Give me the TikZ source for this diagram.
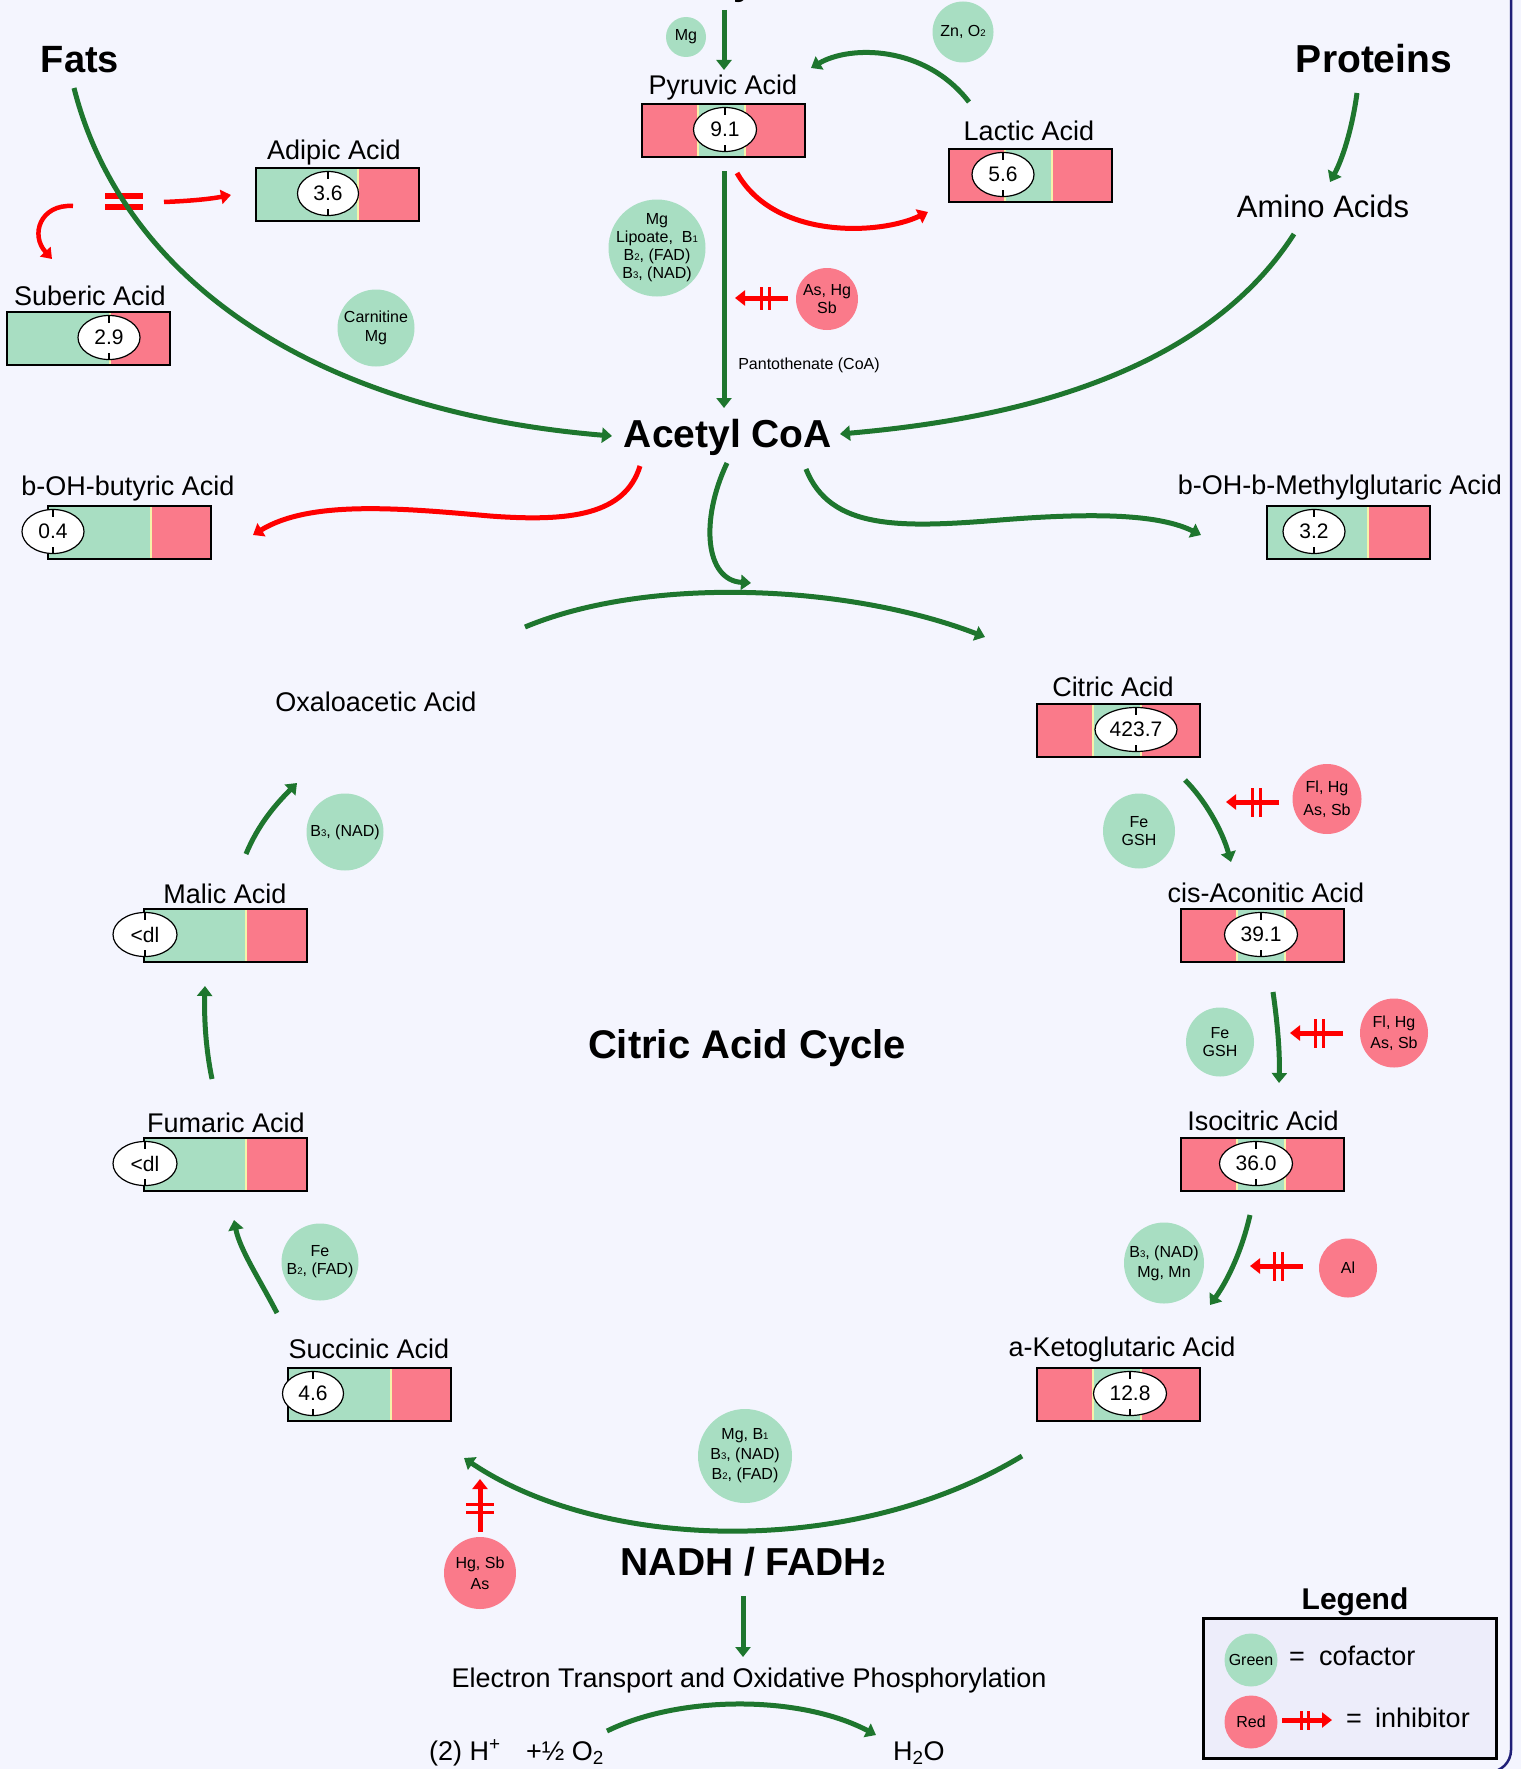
\documentclass[tikz,border=0pt]{standalone}
\usepackage{fontspec}
\setmainfont{Liberation Sans}
\usepackage{graphicx}
\usetikzlibrary{arrows.meta,shapes.geometric,calc}

\definecolor{bgc}{RGB}{244,245,254}
\definecolor{legc}{RGB}{237,237,250}
\definecolor{cofg}{RGB}{168,222,194}
\definecolor{inhr}{RGB}{250,122,138}
\definecolor{agreen}{RGB}{30,118,46}
\definecolor{ared}{RGB}{255,0,0}
\definecolor{framec}{RGB}{32,32,120}
\definecolor{ylw}{RGB}{245,243,170}

\newcommand\sbs[1]{\scalebox{0.6}{#1}}

\tikzset{
 garrow/.style={draw=agreen,line width=5pt,-{Triangle[length=10pt,width=15pt]}},
 rarrow/.style={draw=ared,line width=4.5pt,-{Triangle[length=10pt,width=14pt]}},
 inharrow/.style={draw=ared,line width=5pt,-{Triangle[length=10pt,width=15pt]}},
 inhbar/.style={draw=ared,line width=3pt},
 cof/.style={ellipse,fill=cofg,inner sep=-8pt,align=center,font=\fontsize{16}{19}\selectfont},
 inh/.style={ellipse,fill=inhr,inner sep=-8pt,align=center,font=\fontsize{16}{19}\selectfont},
 barbox/.style={draw=black,line width=1.5pt,minimum width=163pt,minimum height=53pt,inner sep=0pt},
 numell/.style={ellipse,draw=black,fill=white,line width=1.2pt,minimum height=44pt,inner sep=0pt,font=\fontsize{21}{25}\selectfont},
 acidlabel/.style={anchor=base,inner sep=0pt,font=\fontsize{27}{32}\selectfont},
 plain/.style={anchor=base,inner sep=0pt,font=\fontsize{27}{32}\selectfont},
 title/.style={anchor=base,inner sep=0pt,font=\bfseries\fontsize{39}{45}\selectfont},
 tickmark/.style={draw=black,line width=1.2pt},
}

% name, x0, y0, green start, green end, ellipse x, ellipse width, number
\newcommand\acid[8]{%
 \fill[inhr] (#2,#3) rectangle ({#2+163},{#3+53});
 \fill[cofg] (#4,#3) rectangle (#5,{#3+53});
 \ifdim #4pt>\dimexpr #2pt+1pt\relax \draw[ylw,line width=2.5pt] ({#4+1.2},#3) -- ({#4+1.2},{#3+53});\fi
 \draw[ylw,line width=2.5pt] ({#5-1.2},#3) -- ({#5-1.2},{#3+53});
 \node[barbox,anchor=north west] (#1) at (#2,#3) {};
 \node[numell,minimum width=#7pt] (#1n) at (#6,{#3+26.5}) {#8};
 \draw[tickmark] (#6,{#3+4.5}) -- ++(0,7);
 \draw[tickmark] (#6,{#3+48.5}) -- ++(0,-7);
}

\begin{document}
\begin{tikzpicture}[x=1pt,y=-1pt]
\useasboundingbox (0,0) rectangle (1521,1769);
\fill[bgc] (0,0) rectangle (1521,1769);
\draw[framec,line width=2.5pt,rounded corners=22pt] (-30,-30) rectangle (1511,1772);

% fragment of the title above
\node[anchor=base west,inner sep=0pt,font=\bfseries\fontsize{39}{45}\selectfont] (topy) at (733,-5) {y};

% titles
\node[title,font=\bfseries\fontsize{38}{44}\selectfont] (fats) at (80,73) {Fats};
\node[title] (proteins) at (1374,73) {Proteins};
\node[title] (acetyl) at (728,447) {Acetyl CoA};
\node[title,font=\bfseries\fontsize{40}{46}\selectfont] (cycle) at (747,1058) {Citric Acid Cycle};
\node[title] (nadh) at (753,1575) {NADH / FADH\sbs{2}};
\node[title,font=\bfseries\fontsize{30}{36}\selectfont] (legtitle) at (1355,1609) {Legend};

% bars
\acid{bPyr}{641}{103}{697}{746}{725}{63}{9.1}
\acid{bLac}{948}{148}{1004}{1053}{1003}{62}{5.6}
\acid{bAdi}{255}{167}{255}{359}{328}{61}{3.6}
\acid{bSub}{6}{311}{6}{111}{109}{62}{2.9}
\acid{bBut}{47}{505}{47}{152}{53}{62}{0.4}
\acid{bHMG}{1266}{505}{1266}{1369}{1314}{62}{3.2}
\acid{bCit}{1036}{703}{1092}{1142}{1136}{82}{423.7}
\acid{bAco}{1180}{908}{1236}{1286}{1261}{73}{39.1}
\acid{bIso}{1180}{1137}{1236}{1286}{1256}{73}{36.0}
\acid{bKet}{1036}{1367}{1092}{1142}{1130}{73}{12.8}
\acid{bSuc}{287}{1367}{287}{392}{313}{61}{4.6}
\acid{bMal}{143}{908}{143}{247}{145}{64}{<dl}
\acid{bFum}{143}{1137}{143}{247}{145}{64}{<dl}

% labels
\node[acidlabel] (lPyr) at (723,95) {Pyruvic Acid};
\node[acidlabel] (lLac) at (1029,140) {Lactic Acid};
\node[acidlabel] (lAdi) at (334,159) {Adipic Acid};
\node[acidlabel] (lSub) at (90,305) {Suberic Acid};
\node[acidlabel] (lBut) at (128,495) {b-OH-butyric Acid};
\node[acidlabel] (lHMG) at (1340,494) {b-OH-b-Methylglutaric Acid};
\node[acidlabel] (lCit) at (1113,696) {Citric Acid};
\node[acidlabel] (lAco) at (1266,902) {cis-Aconitic Acid};
\node[acidlabel] (lIso) at (1263,1130) {Isocitric Acid};
\node[acidlabel] (lKet) at (1122,1356) {a-Ketoglutaric Acid};
\node[acidlabel] (lSuc) at (369,1358) {Succinic Acid};
\node[acidlabel] (lMal) at (225,903) {Malic Acid};
\node[acidlabel] (lFum) at (226,1132) {Fumaric Acid};
\node[acidlabel] (lOxa) at (376,711) {Oxaloacetic Acid};
\node[acidlabel,font=\fontsize{31}{36}\selectfont] (amino) at (1323,217) {Amino Acids};
\node[acidlabel,font=\fontsize{16}{19}\selectfont] (panto) at (809,369) {Pantothenate (CoA)};
\node[plain] (etc) at (749,1687) {Electron Transport and Oxidative Phosphorylation};
\node[plain,anchor=base west] (hplus) at (429,1760) {(2) H\textsuperscript{+}};
\node[plain,anchor=base west] (oxy) at (526,1760) {+½ O\textsubscript{2}};
\node[plain,anchor=base west] (water) at (893,1760) {H\textsubscript{2}O};

% cofactors (green)
\node[cof,minimum width=40pt,minimum height=40pt] (cMg) at (686,37) {Mg};
\node[cof,minimum width=61pt,minimum height=61pt] (cZn) at (963,32) {Zn, O\sbs{2}};
\node[cof,minimum width=97pt,minimum height=97pt,font=\fontsize{16}{18}\selectfont] (cPyr) at (657,248) {Mg\\Lipoate,~~B\sbs{1}\\B\sbs{2}, (FAD)\\B\sbs{3}, (NAD)};
\node[cof,minimum width=77pt,minimum height=77pt] (cCarn) at (376,328) {Carnitine\\Mg};
\node[cof,minimum width=77pt,minimum height=77pt] (cB3) at (345,832) {B\sbs{3}, (NAD)};
\node[cof,minimum width=72pt,minimum height=75pt,font=\fontsize{16}{18}\selectfont] (cFe1) at (1139,831) {Fe\\GSH};
\node[cof,minimum width=68pt,minimum height=69pt,font=\fontsize{16}{18}\selectfont] (cFe2) at (1220,1042) {Fe\\GSH};
\node[cof,minimum width=80pt,minimum height=81pt,font=\fontsize{16}{20}\selectfont] (cB3Mn) at (1164,1263) {B\sbs{3}, (NAD)\\Mg, Mn};
\node[cof,minimum width=77pt,minimum height=77pt,font=\fontsize{16}{18}\selectfont] (cFeB2) at (320,1262) {Fe\\B\sbs{2}, (FAD)};
\node[cof,minimum width=94pt,minimum height=94pt,font=\fontsize{16}{20}\selectfont] (cMgB1) at (745,1456) {Mg, B\sbs{1}\\B\sbs{3}, (NAD)\\B\sbs{2}, (FAD)};

% inhibitors (red)
\node[inh,minimum width=62pt,minimum height=62pt,font=\fontsize{16}{18}\selectfont] (iAs) at (827,299) {As, Hg\\Sb};
\node[inh,minimum width=69pt,minimum height=70pt,font=\fontsize{16}{23}\selectfont] (iFl1) at (1327,799) {Fl, Hg\\As, Sb};
\node[inh,minimum width=68pt,minimum height=69pt,font=\fontsize{16}{21}\selectfont] (iFl2) at (1394,1033) {Fl, Hg\\As, Sb};
\node[inh,minimum width=58pt,minimum height=59pt] (iAl) at (1348,1268) {Al};
\node[inh,minimum width=72pt,minimum height=72pt,font=\fontsize{16}{21}\selectfont] (iHg) at (480,1573) {Hg, Sb\\As};

% red cross-out and side arrows near Fats
\fill[ared] (105,193) rectangle (143,199);
\fill[ared] (105,204) rectangle (143,210);
\coordinate (fatL) at (73,206);
\coordinate (subIn) at (52,259);
\coordinate (fatR) at (164,202);
\coordinate (adiIn) at (231,195);
\draw[rarrow] (fatL) .. controls (40,204) and (30,235) .. (subIn);
\draw[rarrow] (fatR) .. controls (190,201) and (210,199) .. (adiIn);

% green pathway arrows
\coordinate (topIn) at (724,10);
\coordinate (pyrTop) at (724,70);
\draw[garrow] (topIn) -- (pyrTop);

\coordinate (lacOut) at (969,102);
\coordinate (pyrR) at (811,68);
\draw[garrow] (lacOut) .. controls (925,45) and (850,45) .. (pyrR);

\coordinate (pyrOutR) at (737,173);
\coordinate (lacIn) at (928,212);
\draw[draw=ared,line width=5pt,-{Triangle[length=10pt,width=15pt]}] (pyrOutR) .. controls (775,240) and (880,235) .. (lacIn);

\coordinate (pyrBot) at (724,171);
\coordinate (acTop) at (724,408);
\draw[garrow] (pyrBot) -- (acTop);

\coordinate (fatsOut) at (74,88);
\coordinate (acL) at (612,436);
\draw[garrow] (fatsOut) .. controls (120,270) and (300,410) .. (acL);

\coordinate (aminoOut) at (1294,234);
\coordinate (acR) at (840,434);
\draw[garrow] (aminoOut) .. controls (1200,380) and (1000,420) .. (acR);

\coordinate (protOut) at (1357,93);
\coordinate (aminoIn) at (1330,182);
\draw[garrow] (protOut) .. controls (1352,130) and (1342,160) .. (aminoIn);

\coordinate (acBL) at (640,466);
\coordinate (butIn) at (253,535);
\draw[draw=ared,line width=5pt,-{Triangle[length=10pt,width=15pt]}] (acBL) .. controls (625,515) and (570,522) .. (490,516) .. controls (400,508) and (310,500) .. (butIn);

\coordinate (acBR) at (806,469);
\coordinate (hmgIn) at (1201,535);
\draw[garrow] (acBR) .. controls (830,530) and (900,528) .. (1000,520) .. controls (1100,512) and (1160,515) .. (hmgIn);

\coordinate (acBot) at (727,463);
\coordinate (arcIn) at (751,583);
\draw[garrow] (acBot) .. controls (700,520) and (705,580) .. (arcIn);

\coordinate (oxaOut) at (525,627);
\coordinate (citIn) at (985,637);
\draw[garrow] (oxaOut) .. controls (650,575) and (850,585) .. (citIn);

\coordinate (citOut) at (1185,780);
\coordinate (acoIn) at (1231,862);
\draw[garrow] (citOut) .. controls (1205,800) and (1222,830) .. (acoIn);

\coordinate (acoOut) at (1273,992);
\coordinate (isoIn) at (1279,1083);
\draw[garrow] (acoOut) .. controls (1277,1020) and (1280,1050) .. (isoIn);

\coordinate (isoOut) at (1250,1215);
\coordinate (ketIn) at (1210,1305);
\draw[garrow] (isoOut) .. controls (1242,1250) and (1228,1280) .. (ketIn);

\coordinate (ketOut) at (1022,1456);
\coordinate (sucIn) at (464,1458);
\draw[garrow] (ketOut) .. controls (850,1560) and (600,1550) .. (sucIn);

\coordinate (sucOut) at (277,1313);
\coordinate (fumIn) at (234,1220);
\draw[garrow] (sucOut) .. controls (260,1280) and (240,1250) .. (fumIn);

\coordinate (fumOut) at (212,1079);
\coordinate (malIn) at (205,986);
\draw[garrow] (fumOut) .. controls (206,1050) and (204,1020) .. (malIn);

\coordinate (malOut) at (246,854);
\coordinate (oxaIn) at (297,783);
\draw[garrow] (malOut) .. controls (258,825) and (275,805) .. (oxaIn);

\coordinate (nadhOut) at (743,1596);
\coordinate (etcIn) at (743,1657);
\draw[garrow] (nadhOut) -- (etcIn);

\coordinate (hOut) at (607,1731);
\coordinate (waterIn) at (876,1735);
\draw[garrow] (hOut) .. controls (680,1695) and (800,1695) .. (waterIn);

% inhibitor arrows
\coordinate (iAsT) at (788,298); \coordinate (iAsH) at (735,298);
\draw[inharrow] (iAsT) -- (iAsH);
\draw[inhbar] (761,287) -- (761,310); \draw[inhbar] (769,287) -- (769,310);

\coordinate (iFl1T) at (1279,802); \coordinate (iFl1H) at (1226,802);
\draw[inharrow] (iFl1T) -- (iFl1H);
\draw[inhbar] (1252,788) -- (1252,817); \draw[inhbar] (1260,788) -- (1260,817);

\coordinate (iFl2T) at (1343,1033); \coordinate (iFl2H) at (1290,1033);
\draw[inharrow] (iFl2T) -- (iFl2H);
\draw[inhbar] (1315,1019) -- (1315,1048); \draw[inhbar] (1323,1019) -- (1323,1048);

\coordinate (iAlT) at (1303,1266); \coordinate (iAlH) at (1250,1266);
\draw[inharrow] (iAlT) -- (iAlH);
\draw[inhbar] (1274,1252) -- (1274,1281); \draw[inhbar] (1282,1252) -- (1282,1281);

\coordinate (iHgT) at (480,1532); \coordinate (iHgH) at (480,1479);
\draw[inharrow] (iHgT) -- (iHgH);
\draw[inhbar] (466,1504) -- (494,1504); \draw[inhbar] (466,1512) -- (494,1512);

% legend
\node[draw=black,line width=2.5pt,fill=legc,minimum width=293pt,minimum height=140pt,anchor=north west,inner sep=0pt] (legbox) at (1202,1617) {};
\node[cof,minimum width=53pt,minimum height=53pt] (legG) at (1251,1660) {Green};
\node[inh,minimum width=53pt,minimum height=53pt] (legR) at (1251,1722) {Red};
\node[plain,anchor=base west] (legEq1) at (1289,1665) {=};
\node[plain,anchor=base west] (legCof) at (1319,1665) {cofactor};
\node[plain,anchor=base west] (legEq2) at (1346,1727) {=};
\node[plain,anchor=base west] (legInh) at (1375,1727) {inhibitor};
\coordinate (legT) at (1282,1720); \coordinate (legH) at (1332,1720);
\draw[inharrow] (legT) -- (legH);
\draw[inhbar] (1301,1711) -- (1301,1730); \draw[inhbar] (1308,1711) -- (1308,1730);
\end{tikzpicture}
\end{document}
